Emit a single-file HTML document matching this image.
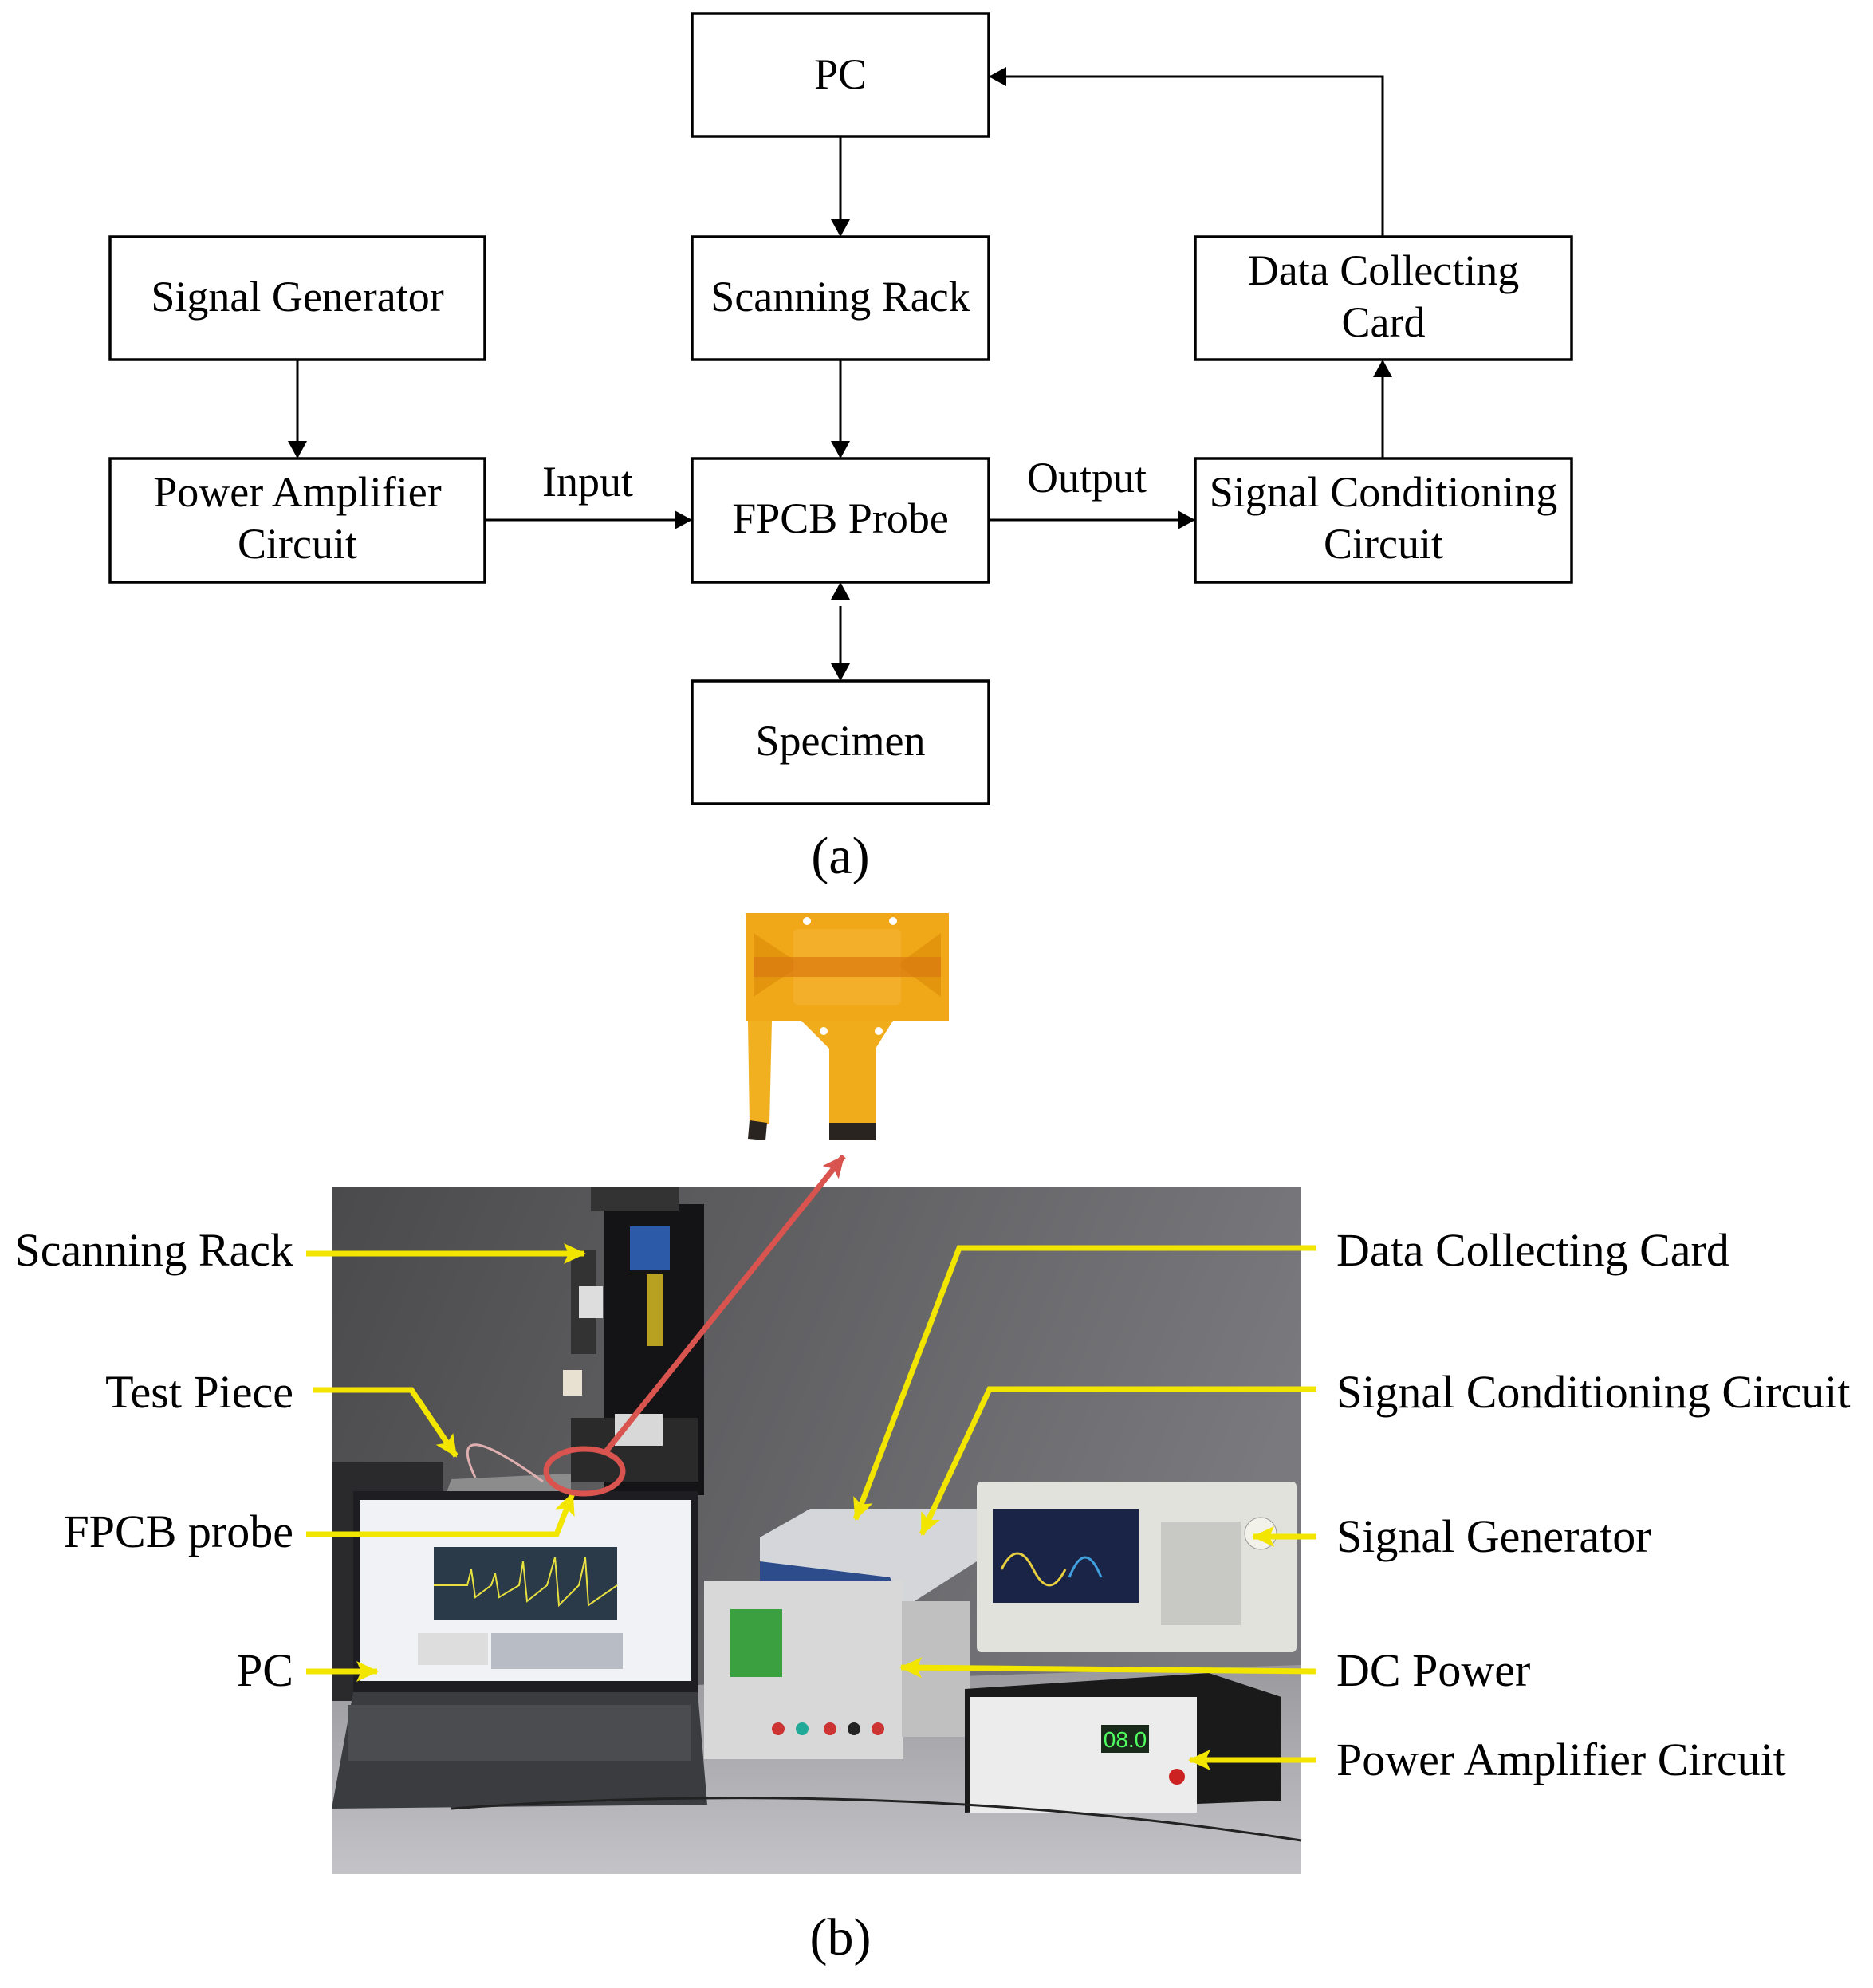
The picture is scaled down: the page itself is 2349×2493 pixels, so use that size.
<!DOCTYPE html>
<html><head><meta charset="utf-8"><style>
html,body{margin:0;padding:0;background:#fff}
svg{display:block}
text{font-family:"Liberation Serif",serif;fill:#000}
</style></head><body>
<svg width="2349" height="2493" viewBox="0 0 2349 2493" xmlns="http://www.w3.org/2000/svg">
<defs>
<marker id="ahb" markerWidth="22" markerHeight="24" refX="20" refY="12" orient="auto" markerUnits="userSpaceOnUse" viewBox="0 0 22 24"><path d="M0,0 L22,12 L0,24 z" fill="#000"/></marker>
<marker id="ay" markerWidth="30" markerHeight="30" refX="26" refY="15" orient="auto" markerUnits="userSpaceOnUse" viewBox="0 0 30 30"><path d="M0,2 L28,15 L0,28 L6,15 z" fill="#f2e600"/></marker>
<marker id="ar" markerWidth="30" markerHeight="30" refX="26" refY="15" orient="auto" markerUnits="userSpaceOnUse" viewBox="0 0 30 30"><path d="M0,2 L28,15 L0,28 L6,15 z" fill="#d9534f"/></marker>
<linearGradient id="bg" x1="0" y1="0" x2="1" y2="0.3"><stop offset="0" stop-color="#4a4a4c"/><stop offset="0.5" stop-color="#626265"/><stop offset="1" stop-color="#7a7a7e"/></linearGradient>
<linearGradient id="tb" x1="0" y1="0" x2="0" y2="1"><stop offset="0" stop-color="#9a9a9e"/><stop offset="1" stop-color="#c4c4c8"/></linearGradient>
</defs>

<g fill="none" stroke="#000" stroke-width="3.5">
<rect x="868" y="17" width="372" height="154"/>
<rect x="868" y="297" width="372" height="154"/>
<rect x="138" y="297" width="470" height="154"/>
<rect x="1499" y="297" width="472" height="154"/>
<rect x="138" y="575" width="470" height="155"/>
<rect x="868" y="575" width="372" height="155"/>
<rect x="1499" y="575" width="472" height="155"/>
<rect x="868" y="854" width="372" height="154"/>
</g>
<g stroke="#000" stroke-width="3" fill="none">
<line x1="1054" y1="171" x2="1054" y2="295" marker-end="url(#ahb)"/>
<line x1="1054" y1="451" x2="1054" y2="573" marker-end="url(#ahb)"/>
<line x1="373" y1="451" x2="373" y2="573" marker-end="url(#ahb)"/>
<line x1="608" y1="652" x2="866" y2="652" marker-end="url(#ahb)"/>
<line x1="1240" y1="652" x2="1497" y2="652" marker-end="url(#ahb)"/>
<line x1="1734" y1="575" x2="1734" y2="453" marker-end="url(#ahb)"/>
<polyline points="1734,297 1734,96 1242,96" marker-end="url(#ahb)"/>
<line x1="1054" y1="752" x2="1054" y2="732" marker-end="url(#ahb)"/>
<line x1="1054" y1="760" x2="1054" y2="852" marker-end="url(#ahb)"/>
</g>
<g font-size="54" text-anchor="middle">
<text x="1054" y="111">PC</text>
<text x="1054" y="390">Scanning Rack</text>
<text x="373" y="390">Signal Generator</text>
<text x="1735" y="357">Data Collecting</text>
<text x="1735" y="422">Card</text>
<text x="373" y="635">Power Amplifier</text>
<text x="373" y="700">Circuit</text>
<text x="1054" y="668">FPCB Probe</text>
<text x="1735" y="635">Signal Conditioning</text>
<text x="1735" y="700">Circuit</text>
<text x="1054" y="947">Specimen</text>
<text x="737" y="622">Input</text>
<text x="1363" y="617">Output</text>
<text x="1054" y="1095" font-size="66">(a)</text>
<text x="1054" y="2451" font-size="66">(b)</text>
</g>

<g>
<rect x="935" y="1145" width="255" height="135" fill="#f0a818"/>
<path d="M945,1170 L1005,1210 L945,1250 Z M1180,1170 L1125,1210 L1180,1250 Z" fill="#e0900c" opacity="0.8"/>
<rect x="995" y="1165" width="135" height="95" rx="6" fill="#f5b030" opacity="0.8"/>
<rect x="945" y="1200" width="235" height="25" fill="#d87810" opacity="0.7"/>
<path d="M1005,1280 L1120,1280 L1098,1315 L1098,1410 L1040,1410 L1040,1315 Z" fill="#f0ac1a"/>
<path d="M938,1280 L968,1280 L965,1410 L940,1410 Z" fill="#f0b020"/>
<rect x="1040" y="1408" width="58" height="22" fill="#2a2420"/>
<path d="M940,1405 L962,1408 L960,1430 L938,1428 Z" fill="#2a2420"/>
<circle cx="1012" cy="1155" r="5" fill="#fff"/><circle cx="1120" cy="1155" r="5" fill="#fff"/>
<circle cx="1033" cy="1293" r="5" fill="#fff"/><circle cx="1102" cy="1293" r="5" fill="#fff"/>
</g>

<g transform="translate(416,1488)">
<rect x="0" y="0" width="1216" height="862" fill="url(#bg)"/>
<path d="M0,640 L1216,600 L1216,862 L0,862 Z" fill="url(#tb)"/>
<rect x="0" y="345" width="140" height="300" fill="#2a2a2c"/>
<rect x="342" y="22" width="125" height="365" fill="#141416"/>
<rect x="325" y="0" width="110" height="30" fill="#333"/>
<rect x="374" y="50" width="50" height="55" fill="#2c5aa8"/>
<rect x="395" y="110" width="20" height="90" fill="#b8a020"/>
<rect x="300" y="80" width="32" height="130" fill="#333"/>
<rect x="310" y="125" width="30" height="40" fill="#ddd"/>
<rect x="290" y="230" width="24" height="32" fill="#e8e0d0"/>
<rect x="300" y="290" width="160" height="80" fill="#2a2a2a"/>
<rect x="355" y="285" width="60" height="40" fill="#d8d8d8"/>
<path d="M150,367 L300,360 L300,388 L140,395 Z" fill="#8c8c8c"/>
<path d="M265,370 Q140,280 180,365" stroke="#e0b0b0" stroke-width="3" fill="none"/>
<rect x="27" y="382" width="432" height="252" fill="#1e1e22"/>
<rect x="35" y="393" width="416" height="227" fill="#f0f2f6"/>
<rect x="128" y="452" width="230" height="92" fill="#2a3a48"/>
<polyline points="128,500 170,500 175,480 180,515 200,500 205,485 210,515 235,500 240,470 245,520 270,500 280,465 285,525 310,500 318,465 322,525 358,500" fill="none" stroke="#e8e040" stroke-width="2"/>
<rect x="108" y="560" width="88" height="40" fill="#ddd"/>
<rect x="200" y="560" width="165" height="45" fill="#b8bcc4"/>
<path d="M27,634 L459,634 L471,775 L0,780 Z" fill="#3a3c40"/>
<rect x="20" y="650" width="430" height="70" fill="#4a4c50"/>
<path d="M537,440 L600,404 L809,404 L809,470 L720,527 L537,500 Z" fill="#d4d6da"/>
<path d="M537,470 L700,490 L720,527 L537,505 Z" fill="#2c4c8c"/>
<rect x="467" y="494" width="250" height="224" fill="#d8d8d8"/>
<rect x="500" y="530" width="65" height="85" fill="#3aa040"/>
<rect x="715" y="520" width="85" height="170" fill="#c0c0c0"/>
<circle cx="560" cy="680" r="8" fill="#c33"/><circle cx="590" cy="680" r="8" fill="#2a9"/><circle cx="625" cy="680" r="8" fill="#c33"/><circle cx="655" cy="680" r="8" fill="#222"/><circle cx="685" cy="680" r="8" fill="#c33"/>
<rect x="809" y="370" width="401" height="214" rx="6" fill="#e2e2dc"/>
<rect x="829" y="404" width="183" height="118" fill="#1a2446"/>
<path d="M840,480 Q860,440 880,480 T920,480" stroke="#e8d040" stroke-width="3" fill="none"/>
<path d="M925,490 Q945,440 965,490" stroke="#40a0e0" stroke-width="3" fill="none"/>
<circle cx="1165" cy="435" r="20" fill="#f2f2ea" stroke="#999"/>
<rect x="1040" y="420" width="100" height="130" fill="#c8c8c4"/>
<path d="M794,630 L1100,610 L1191,640 L1191,770 L794,785 Z" fill="#1a1a1a"/>
<rect x="800" y="640" width="285" height="145" fill="#ececec"/>
<rect x="965" y="675" width="60" height="35" fill="#1a2a1a"/>
<text x="995" y="703" font-size="28" text-anchor="middle" style="fill:#50ff60;font-family:'Liberation Sans',sans-serif">08.0</text>
<circle cx="1060" cy="740" r="10" fill="#c22"/>
<path d="M150,780 Q700,740 1216,820" stroke="#222" stroke-width="3" fill="none"/>
</g>

<g stroke="#f2e600" stroke-width="7" fill="none" stroke-linejoin="miter">
<line x1="384" y1="1572" x2="733" y2="1572" marker-end="url(#ay)"/>
<polyline points="392,1743 516,1743 572,1826" marker-end="url(#ay)"/>
<polyline points="384,1924 698,1924 718,1873" marker-end="url(#ay)"/>
<line x1="384" y1="2096" x2="473" y2="2096" marker-end="url(#ay)"/>
<polyline points="1651,1565 1203,1565 1073,1905" marker-end="url(#ay)"/>
<polyline points="1651,1742 1241,1742 1156,1924" marker-end="url(#ay)"/>
<line x1="1651" y1="1927" x2="1572" y2="1927" marker-end="url(#ay)"/>
<line x1="1651" y1="2096" x2="1130" y2="2091" marker-end="url(#ay)"/>
<line x1="1651" y1="2207" x2="1492" y2="2207" marker-end="url(#ay)"/>
</g>
<ellipse cx="733" cy="1845" rx="48" ry="28" fill="none" stroke="#d9534f" stroke-width="7"/>
<line x1="760" y1="1820" x2="1058" y2="1450" stroke="#d9534f" stroke-width="7" marker-end="url(#ar)"/>

<g font-size="58">
<text x="368" y="1587" text-anchor="end">Scanning Rack</text>
<text x="368" y="1765" text-anchor="end">Test Piece</text>
<text x="368" y="1940" text-anchor="end">FPCB probe</text>
<text x="368" y="2114" text-anchor="end">PC</text>
<text x="1676" y="1587">Data Collecting Card</text>
<text x="1676" y="1765">Signal Conditioning Circuit</text>
<text x="1676" y="1946">Signal Generator</text>
<text x="1676" y="2114">DC Power</text>
<text x="1676" y="2226">Power Amplifier Circuit</text>
</g>
</svg>
</body></html>
